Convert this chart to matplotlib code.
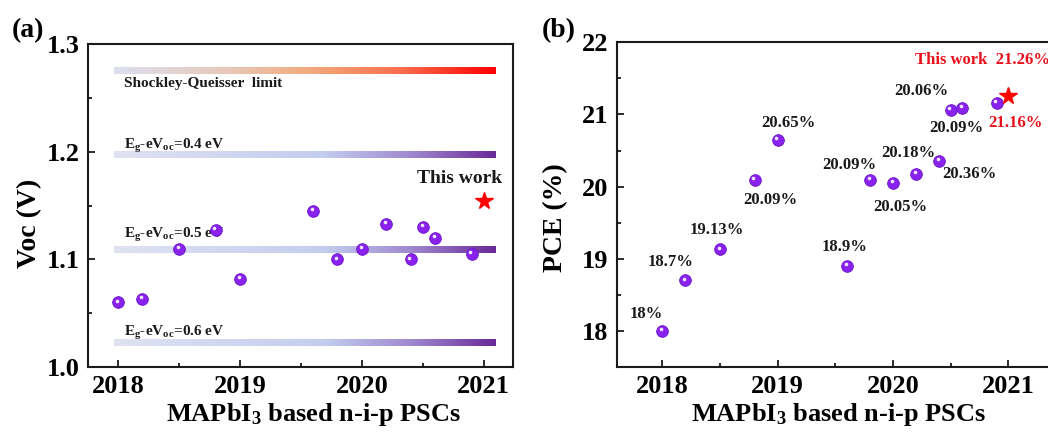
import numpy as np
import matplotlib
matplotlib.use("Agg")
import matplotlib.pyplot as plt
from matplotlib.colors import LinearSegmentedColormap
from matplotlib.ticker import MultipleLocator
from matplotlib.transforms import offset_copy

plt.rcParams['font.family'] = ['Liberation Serif', 'DejaVu Serif']
plt.rcParams['font.weight'] = 'bold'
plt.rcParams['axes.labelweight'] = 'bold'
plt.rcParams['mathtext.fontset'] = 'custom'
plt.rcParams['mathtext.rm'] = 'Liberation Serif:bold'
plt.rcParams['mathtext.it'] = 'Liberation Serif:bold'
plt.rcParams['mathtext.bf'] = 'Liberation Serif:bold'

# ---------------- data ----------------
voc_year = [2018.0, 2018.2, 2018.5, 2018.8, 2019.0, 2019.6, 2019.8, 2020.0,
            2020.2, 2020.4, 2020.5, 2020.6, 2020.9]
voc_vals = [1.060, 1.063, 1.110, 1.127, 1.082, 1.145, 1.100, 1.110,
            1.133, 1.100, 1.130, 1.120, 1.105]
voc_this_year = 2021.0
voc_this = 1.154

limit_vals = [1.275, 1.197, 1.109, 1.022]
limit_labels = ['Shockley-Queisser  limit',
                r'E$_{\rm g}$-eV$_{\rm oc}$=0.4 eV',
                r'E$_{\rm g}$-eV$_{\rm oc}$=0.5 eV',
                r'E$_{\rm g}$-eV$_{\rm oc}$=0.6 eV']
limit_label_y = [1.2605, 1.203, 1.1198, 1.0288]
limit_x = [2017.97, 2021.1]

pce_year = [2018.0, 2018.2, 2018.5, 2018.8, 2019.0, 2019.6, 2019.8, 2020.0,
            2020.2, 2020.4, 2020.5, 2020.6, 2020.9]
pce_vals = [18.00, 18.70, 19.13, 20.09, 20.65, 18.90, 20.09, 20.05,
            20.18, 20.36, 21.06, 21.09, 21.16]
pce_labels = ['18%', '18.7%', '19.13%', '20.09%', '20.65%', '18.9%', '20.09%',
              '20.05%', '20.18%', '20.36%', '20.06%', '20.09%', '21.16%']
pce_label_x = [2017.86, 2018.07, 2018.47, 2018.94, 2019.09, 2019.58, 2019.62,
               2020.06, 2020.13, 2020.66, 2020.25, 2020.55, 2021.06]
pce_label_y = [18.23, 18.95, 19.40, 19.81, 20.88, 19.17, 20.30,
               19.72, 20.47, 20.17, 21.33, 20.81, 20.88]
pce_label_color = ['#1a1a1a'] * 12 + ['#e8101a']
pce_this_year = 2021.0
pce_this = 21.26

years = [2018, 2019, 2020, 2021]

# ---------------- figure ----------------
fig = plt.figure(figsize=(10.48, 4.38), dpi=100)
W, H = 1048, 438
axa = fig.add_axes([88 / W, (H - 367) / H, (513 - 88) / W, (367 - 44) / H])
axb = fig.add_axes([617 / W, (H - 367) / H, (1060 - 617) / W, (367 - 42.3) / H])

sphere_kw = dict(marker='o', ms=8.4, mfc='#8a22ee', mec='#6a12c8', mew=0.6, ls='none', zorder=5)
hl_kw = dict(marker='o', ms=2.6, mfc='#f0e6ff', mec='none', ls='none', zorder=6)

purple_cmap = LinearSegmentedColormap.from_list(
    'pur', [(0, '#e0e2f2'), (0.55, '#c3cdef'), (0.78, '#9f88cf'), (1.0, '#6a2a98')])
sq_cmap = LinearSegmentedColormap.from_list(
    'sq', [(0, '#dcdff0'), (0.3, '#e8c8b8'), (0.5, '#f2ad80'), (0.75, '#f8704f'), (1.0, '#ff0000')])
grad = np.linspace(0, 1, 256).reshape(1, -1)

# ---- panel (a) ----
half = 0.0029
for i, (yv, lab, ly) in enumerate(zip(limit_vals, limit_labels, limit_label_y)):
    cmap = sq_cmap if i == 0 else purple_cmap
    axa.imshow(grad, cmap=cmap, aspect='auto', extent=[limit_x[0], limit_x[1], yv - half, yv + half],
               zorder=2, interpolation='bilinear')
    axa.text(2018.05, ly, lab, fontsize=11, va='baseline', ha='left',
             color='#1a1a1a', zorder=4)

axa.plot(voc_year, voc_vals, **sphere_kw)
axa.plot(voc_year, voc_vals, transform=offset_copy(axa.transData, fig=fig, x=-1.2, y=1.8, units='dots'), **hl_kw)
axa.plot([voc_this_year], [voc_this], marker='*', ms=13, color='#ff0000', ls='none', zorder=6)
axa.text(2020.45, 1.171, 'This work', fontsize=14, ha='left', va='baseline', color='#1a1a1a')

axa.set_xlim(2017.754, 2021.24)
axa.set_ylim(1.0, 1.3)
axa.set_xticks(years)
axa.yaxis.set_major_locator(MultipleLocator(0.1))
axa.yaxis.set_minor_locator(MultipleLocator(0.05))
axa.xaxis.set_minor_locator(MultipleLocator(0.5))
axa.set_ylabel('Voc (V)', fontsize=20, fontweight='bold', labelpad=3)

# ---- panel (b) ----
axb.plot(pce_year, pce_vals, **sphere_kw)
axb.plot(pce_year, pce_vals, transform=offset_copy(axb.transData, fig=fig, x=-1.2, y=1.8, units='dots'), **hl_kw)
axb.plot([pce_this_year], [pce_this], marker='*', ms=13, color='#ff0000', ls='none', zorder=6)
for lx, ly, lab, c in zip(pce_label_x, pce_label_y, pce_labels, pce_label_color):
    axb.text(lx, ly, lab, fontsize=12, ha='center', va='center', color=c)
axb.text(2020.19, 21.75, 'This work  21.26%', fontsize=12, ha='left', va='center', color='#e8101a')

px_per_year = 115.3
axb.set_xlim(2018 - (662.3 - 617) / px_per_year, 2018 + (1060 - 662.3) / px_per_year)
axb.set_ylim(17.5, 22)
axb.set_xticks(years)
axb.yaxis.set_major_locator(MultipleLocator(1))
axb.yaxis.set_minor_locator(MultipleLocator(0.5))
axb.xaxis.set_minor_locator(MultipleLocator(0.5))
axb.set_ylabel('PCE (%)', fontsize=20, fontweight='bold', labelpad=10)

for ax in (axa, axb):
    ax.set_xlabel(r'MAPbI$_{\rm 3}$ based n-i-p PSCs', fontsize=19, fontweight='bold', labelpad=2)
    ax.tick_params(which='both', direction='in', width=1.3, labelsize=19, color='#1a1a1a')
    ax.tick_params(which='major', length=5, pad=6)
    ax.tick_params(which='minor', length=3)
    ax.tick_params(axis='y', which='both', right=False)
    for s in ax.spines.values():
        s.set_linewidth(1.5)
        s.set_color('#1a1a1a')
    for lab in ax.get_xticklabels() + ax.get_yticklabels():
        lab.set_fontweight('bold')

axa.xaxis.label.set_x(0.53)
axa.yaxis.label.set_y(0.445)
axb.yaxis.label.set_y(0.46)

fig.text(12 / W, 1 - 31 / H, '(a)', fontsize=20, ha='left', va='center')
fig.text(542 / W, 1 - 31 / H, '(b)', fontsize=20, ha='left', va='center')

fig.savefig('out.png', dpi=100)
